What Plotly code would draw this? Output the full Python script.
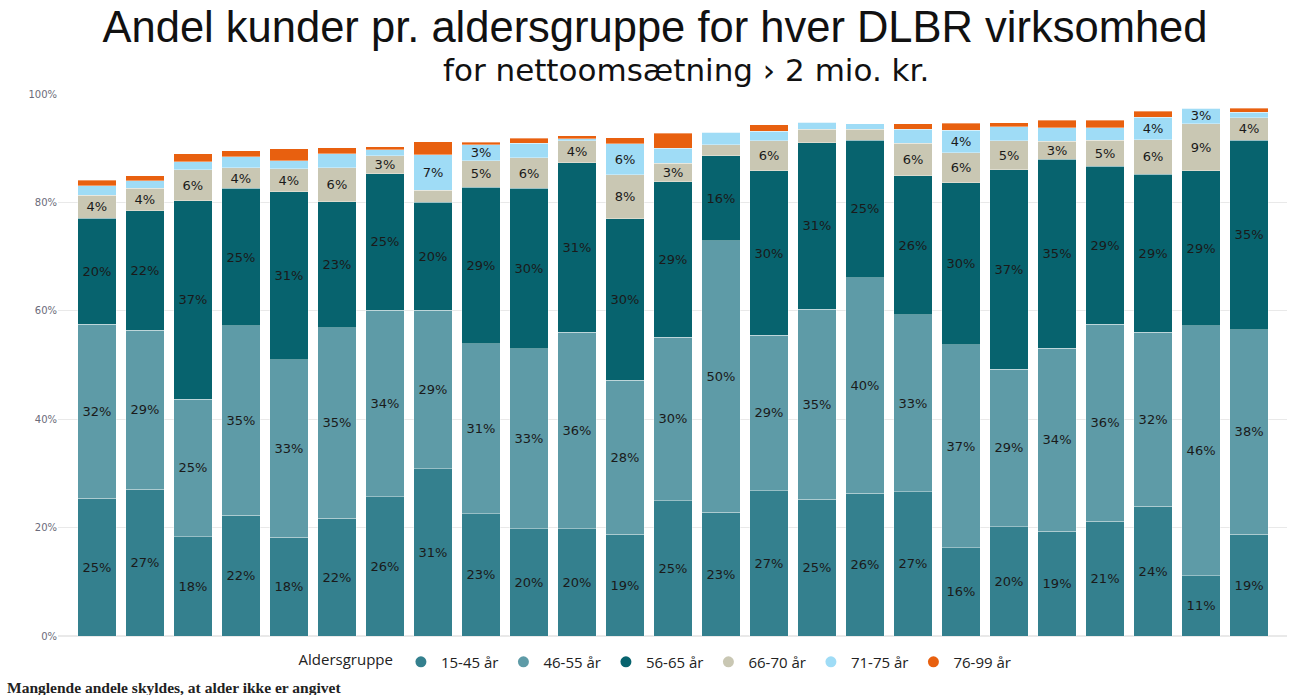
import plotly.graph_objects as go

virksomheder = [f"Virksomhed {i}" for i in range(1, 26)]

age_groups = ["15-45 år", "46-55 år", "56-65 år", "66-70 år", "71-75 år", "76-99 år"]

a15_45 = [25.4, 27.1, 18.3, 22.3, 18.2, 21.7, 25.7, 30.9, 22.6, 19.8, 19.8, 18.8, 25.0,
          22.8, 26.8, 25.2, 26.3, 26.6, 16.3, 20.2, 19.3, 21.2, 23.9, 11.1, 18.8]
a46_55 = [32.1, 29.3, 25.4, 34.9, 32.8, 35.2, 34.4, 29.2, 31.3, 33.2, 36.2, 28.4, 30.1,
          50.1, 28.7, 35.1, 39.8, 32.7, 37.4, 29.0, 33.8, 36.3, 32.1, 46.1, 37.7]
a56_65 = [19.6, 22.1, 36.6, 25.4, 31.0, 23.2, 25.2, 19.9, 28.9, 29.6, 31.3, 29.8, 28.7,
          15.7, 30.3, 30.7, 25.4, 25.6, 29.9, 36.8, 34.9, 29.2, 29.2, 28.6, 35.0]
a66_70 = [4.2, 4.1, 5.7, 3.8, 4.2, 6.3, 3.3, 2.2, 4.9, 5.6, 4.1, 8.1, 3.4,
          2.0, 5.6, 2.5, 2.0, 6.0, 5.6, 5.4, 3.3, 4.8, 6.4, 8.7, 4.1]
a71_75 = [1.8, 1.4, 1.5, 2.0, 1.5, 2.6, 1.1, 6.6, 2.9, 2.7, 0.3, 5.7, 2.8,
          2.3, 1.7, 1.3, 1.0, 2.6, 4.1, 2.6, 2.5, 2.3, 4.1, 2.9, 1.0]
a76_99 = [1.0, 0.9, 1.5, 1.1, 2.2, 1.1, 0.6, 2.4, 0.5, 0.9, 0.6, 1.1, 2.8,
          0.0, 1.2, 0.0, 0.0, 1.0, 1.3, 0.7, 1.4, 1.4, 1.1, 0.0, 0.8]

series = [a15_45, a46_55, a56_65, a66_70, a71_75, a76_99]
colors = ["#34808E", "#5E9BA7", "#07636E", "#C9C7B3", "#9FDCF6", "#E8600F"]

tick_vals = [0, 20, 40, 60, 80, 100]
tick_text = ["0%", "20%", "40%", "60%", "80%", "100%"]

LABEL_MIN = 2.85

fig = go.Figure()
for name, vals, col in zip(age_groups, series, colors):
    texts = [f"{v:.0f}%" if v >= LABEL_MIN else "" for v in vals]
    fig.add_trace(go.Bar(
        x=virksomheder, y=vals, name=name,
        marker=dict(color=col, line=dict(color="rgba(255,255,255,0.6)", width=0.6)),
        text=texts, textposition="inside", insidetextanchor="middle",
        textangle=0, constraintext="none",
        textfont=dict(family="DejaVu Sans, sans-serif", size=13, color="#1a1a1a"),
        hovertemplate="%{x}<br>" + name + ": %{y:.1f}%<extra></extra>",
        showlegend=False,
    ))
    # legend entry with round marker
    fig.add_trace(go.Scatter(
        x=[None], y=[None], mode="markers", name=name,
        marker=dict(color=col, size=11, symbol="circle"),
        showlegend=True,
    ))

fig.update_layout(
    barmode="stack",
    bargap=0.2,
    width=1290, height=695,
    margin=dict(l=58, r=3, t=94, b=59, autoexpand=False),
    paper_bgcolor="white",
    plot_bgcolor="white",
    font=dict(family="Open Sans, Liberation Sans, sans-serif", color="#222"),
    title=dict(
        text="Andel kunder pr. aldersgruppe for hver DLBR virksomhed",
        font=dict(family="Liberation Sans, Arial, sans-serif", size=43.5, color="#111"),
        x=655 / 1290, xanchor="center", xref="container",
        y=0.962, yanchor="middle",
    ),
    xaxis=dict(
        showticklabels=False, showgrid=False, zeroline=False,
        range=[-0.81, 24.79], fixedrange=True,
    ),
    yaxis=dict(
        range=[0, 100], tickvals=tick_vals, ticktext=tick_text,
        showgrid=True, gridcolor="#e9e9e9", gridwidth=1,
        zeroline=True, zerolinecolor="#e9e9e9",
        tickfont=dict(family="DejaVu Sans, sans-serif", size=10, color="#6b6b7a"),
        ticks="", ticklen=0,
    ),
    legend=dict(
        orientation="h", x=0.487, xanchor="center", xref="paper",
        y=-0.048, yanchor="middle", traceorder="normal",
        title=dict(text="Aldersgruppe", font=dict(size=15, color="#222")),
        font=dict(family="Open Sans, sans-serif", size=15, color="#222"),
        itemwidth=30, tracegroupgap=0,
    ),
    annotations=[
        dict(
            text="for nettoomsætning › 2 mio. kr.",
            xref="paper", yref="paper", x=(686 - 58) / 1229, y=1.0 + (94 - 70) / 542,
            xanchor="center", yanchor="middle", showarrow=False,
            font=dict(family="DejaVu Sans, sans-serif", size=31, color="#111"),
        ),
        dict(
            text="<b>Manglende andele skyldes, at alder ikke er angivet</b>",
            xref="paper", yref="paper", x=-53 / 1229, y=-(687 - 636) / 542,
            xanchor="left", yanchor="middle", showarrow=False,
            font=dict(family="Liberation Serif, Times New Roman, serif", size=15.5, color="#222"),
        ),
    ],
)

fig.write_html(
    "out.html",
    config={"displayModeBar": False},
    post_script="document.body.style.margin='0';document.body.style.overflow='hidden';",
)
